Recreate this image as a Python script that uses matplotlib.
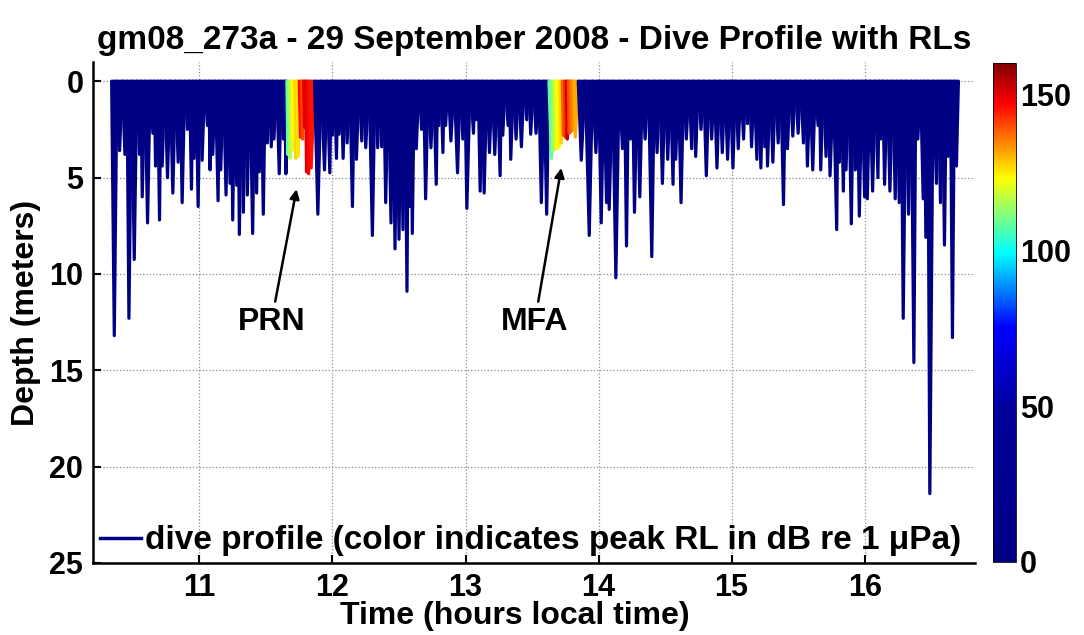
import numpy as np
import matplotlib
matplotlib.use('Agg')
import matplotlib.pyplot as plt
from matplotlib.collections import PolyCollection
from matplotlib.colors import LinearSegmentedColormap, Normalize
from matplotlib.cm import ScalarMappable
from matplotlib.lines import Line2D

plt.rcParams['font.family'] = ['Liberation Sans', 'DejaVu Sans']
plt.rcParams['font.weight'] = 'bold'

# dives with no sonar exposure (time in hours, max depth in m)
dive_time = [10.36, 10.40, 10.44, 10.47, 10.51, 10.55, 10.57, 10.61, 10.65, 10.67,
             10.70, 10.72, 10.76, 10.80, 10.84, 10.87, 10.91, 10.94, 10.96, 10.99,
             11.02, 11.06, 11.08, 11.10, 11.14, 11.16, 11.20, 11.23, 11.25, 11.28,
             11.30, 11.33, 11.36, 11.40, 11.43, 11.45, 11.48, 11.51, 11.54, 11.56,
             11.60, 11.63, 11.65,
             11.89, 11.94, 11.98, 12.00, 12.03, 12.05, 12.08, 12.11, 12.15, 12.18,
             12.22, 12.25, 12.30, 12.34, 12.37, 12.40, 12.44, 12.47, 12.50, 12.53,
             12.56, 12.58, 12.60, 12.63, 12.67, 12.70, 12.74, 12.78, 12.80, 12.83,
             12.85, 12.89, 12.94, 12.98, 13.01, 13.06, 13.08, 13.11, 13.14, 13.18,
             13.22, 13.26, 13.28, 13.32, 13.34, 13.38, 13.42, 13.46, 13.49, 13.53,
             13.57, 13.61,
             13.87, 13.93, 13.98, 14.02, 14.06, 14.08, 14.13, 14.18, 14.21, 14.24,
             14.27, 14.31, 14.35, 14.40, 14.44, 14.48, 14.52, 14.56, 14.58, 14.62,
             14.66, 14.70, 14.73, 14.77, 14.81, 14.85, 14.89, 14.93, 14.97, 15.01,
             15.05, 15.09, 15.12, 15.15, 15.19, 15.22, 15.25, 15.27, 15.31, 15.35,
             15.39, 15.42, 15.46, 15.50, 15.54, 15.57, 15.61, 15.65, 15.67, 15.71,
             15.74, 15.79, 15.81, 15.84, 15.86, 15.90, 15.93, 15.96, 16.00, 16.02,
             16.06, 16.10, 16.12, 16.15, 16.19, 16.23, 16.26, 16.29, 16.33, 16.37,
             16.40, 16.44, 16.46, 16.49, 16.54, 16.57, 16.60, 16.63, 16.66, 16.69]
dive_depth = [13.2, 3.6, 3.8, 12.3, 9.25, 3.8, 6.0, 7.35, 2.7, 4.4,
              7.2, 4.4, 5.0, 5.8, 4.2, 6.3, 2.5, 5.6, 4.0, 6.5,
              4.1, 2.3, 4.6, 3.8, 6.2, 4.6, 5.9, 5.3, 7.2, 5.4,
              7.95, 6.8, 5.9, 7.9, 5.8, 4.7, 6.9, 3.2, 3.4, 3.0,
              4.8, 3.0, 4.8,
              6.9, 4.6, 4.75, 2.8, 4.0, 2.75, 4.0, 3.2, 6.5, 4.05,
              3.1, 3.45, 8.0, 3.45, 3.4, 6.3, 7.35, 8.7, 8.2, 7.7,
              10.9, 6.5, 7.9, 3.5, 2.5, 6.1, 3.45, 5.35, 2.3, 3.7,
              2.3, 3.1, 4.75, 3.0, 6.6, 2.7, 2.0, 5.7, 5.8, 3.7,
              3.8, 4.9, 2.8, 2.3, 4.05, 3.0, 3.4, 2.0, 2.75, 2.7,
              6.3, 6.9,
              4.1, 8.0, 3.7, 7.35, 6.3, 6.65, 10.2, 3.5, 8.55, 3.0,
              6.8, 6.0, 3.0, 9.1, 3.7, 5.3, 4.05, 5.35, 4.05, 6.3,
              3.0, 3.5, 3.9, 2.5, 4.9, 3.0, 4.5, 3.7, 4.05, 4.5,
              3.5, 3.0, 2.2, 3.4, 4.05, 4.5, 3.4, 4.4, 4.2, 3.2,
              6.4, 3.5, 2.85, 2.7, 3.2, 4.4, 4.6, 2.3, 4.6, 3.9,
              4.9, 7.7, 4.2, 5.7, 4.6, 7.4, 4.6, 7.0, 6.0, 6.1,
              5.7, 5.0, 3.0, 5.35, 5.7, 6.1, 6.3, 12.3, 6.9, 14.6,
              3.0, 6.1, 8.1, 21.4, 5.3, 6.3, 8.5, 3.9, 13.3, 4.4]

# dives during the PRN exposure
prn_time = [11.665, 11.68, 11.695, 11.71, 11.725, 11.74, 11.76, 11.775, 11.79, 11.805, 11.82, 11.84]
prn_depth = [3.8, 4.0, 3.6, 3.0, 4.0, 3.9, 2.9, 3.0, 2.4, 4.7, 4.8, 4.5]
prn_rl = [108, 114, 119, 123, 127, 126, 146, 140, 149, 150, 147, 145]

# dives during the MFA exposure
mfa_time = [13.645, 13.66, 13.675, 13.69, 13.705, 13.72, 13.735, 13.75, 13.765, 13.78, 13.795, 13.81, 13.825]
mfa_depth = [4.0, 3.6, 3.5, 3.5, 3.4, 3.2, 2.8, 2.9, 3.0, 2.7, 2.6, 2.5, 2.9]
mfa_rl = [108, 114, 118, 122, 124, 127, 138, 142, 152, 140, 137, 134, 131]

cbar_ticks = [0, 50, 100, 150]

# colormap: dark navy for low levels, then jet-like ramp
rl_max = 160
cmap = LinearSegmentedColormap.from_list('rl', [
    (0.0, (0.0, 0.0, 0.52)),
    (0.30, (0.0, 0.0, 0.60)),
    (0.47, (0.0, 0.0, 1.0)),
    (0.62, (0.0, 1.0, 1.0)),
    (0.77, (1.0, 1.0, 0.0)),
    (0.92, (1.0, 0.0, 0.0)),
    (1.0, (0.5, 0.0, 0.0))])
norm = Normalize(0, rl_max)

t = np.array(dive_time + prn_time + mfa_time)
d = np.array(dive_depth + prn_depth + mfa_depth)
rl = np.array([0] * len(dive_time) + prn_rl + mfa_rl, dtype=float)
order = np.argsort(t)
t, d, rl = t[order], d[order], rl[order]

# surface points halfway between dives
mid = (t[:-1] + t[1:]) / 2
left = np.concatenate([[t[0] - (mid[0] - t[0])], mid])
right = np.concatenate([mid, [t[-1] + (t[-1] - mid[-1])]])
polys = [[(l, 0), (tt, dd), (r, 0)] for l, tt, dd, r in zip(left, t, d, right)]
colors = cmap(norm(rl))

fig = plt.figure(figsize=(10.84, 6.35), dpi=100)
ax = fig.add_axes([0.0858, 0.1134, 0.8137, 0.789])

pc = PolyCollection(polys, facecolors=colors, edgecolors=colors, linewidths=2.3)
ax.add_collection(pc)

ax.set_xlim(10.2, 16.83)
ax.set_ylim(25, -1)
ax.set_xticks([11, 12, 13, 14, 15, 16])
ax.set_yticks([0, 5, 10, 15, 20, 25])
ax.grid(True, linestyle=':', color='0.55', linewidth=0.9)
ax.set_axisbelow(True)
for s in ['top', 'right']:
    ax.spines[s].set_visible(False)
for s in ['left', 'bottom']:
    ax.spines[s].set_linewidth(1.8)
ax.tick_params(direction='in', length=6, width=1.5, labelsize=22, pad=7)

ax.set_title('gm08_273a - 29 September 2008 - Dive Profile with RLs',
             fontsize=24, fontweight='bold', pad=9)
ax.set_xlabel('Time (hours local time)', fontsize=23, fontweight='bold', labelpad=0)
ax.xaxis.set_label_coords(0.478, -0.075)
ax.set_ylabel('Depth (meters)', fontsize=23, fontweight='bold', labelpad=6)

arrow = dict(arrowstyle='-|>', color='black', lw=1.8, mutation_scale=14, shrinkA=2, shrinkB=0)
ax.annotate('PRN', xy=(11.73, 5.6), xytext=(11.54, 12.5), ha='center', va='center',
            fontsize=23, fontweight='bold', arrowprops=arrow)
ax.annotate('MFA', xy=(13.72, 4.5), xytext=(13.52, 12.5), ha='center', va='center',
            fontsize=23, fontweight='bold', arrowprops=arrow)

handle = Line2D([], [], color=cmap(0.0), lw=2.5)
ax.legend([handle], ['dive profile (color indicates peak RL in dB re 1 \u03bcPa)'],
          loc='lower left', bbox_to_anchor=(0.0, 0.0), borderaxespad=0.0, borderpad=0.2,
          frameon=False, prop={'size': 24, 'weight': 'bold'},
          handlelength=1.25, handletextpad=0.1)

cax = fig.add_axes([0.916, 0.115, 0.0212, 0.786])
sm = ScalarMappable(norm=norm, cmap=cmap)
cb = fig.colorbar(sm, cax=cax, ticks=cbar_ticks)
cb.outline.set_linewidth(0.6)
cax.tick_params(length=0, labelsize=22, pad=3)

fig.savefig('out.png', dpi=100)
